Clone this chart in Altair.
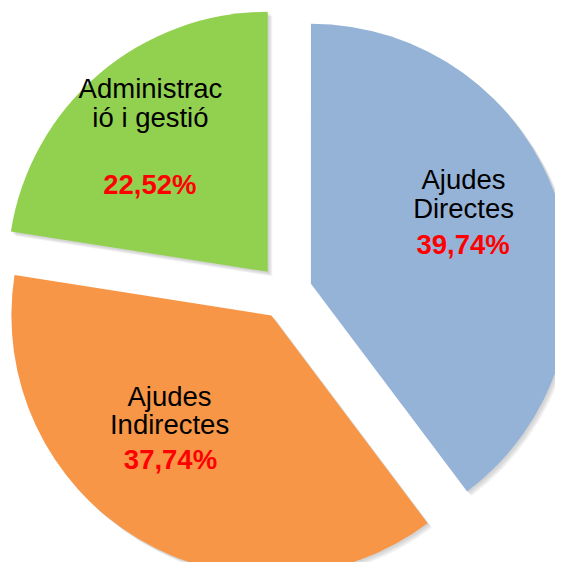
import math
from itertools import accumulate

import altair as alt
import pandas as pd

# ---- data ----
categories = ["Ajudes Directes", "Ajudes Indirectes", "Administració i gestió"]
values = [39.74, 37.74, 22.52]
name_labels = ["Ajudes\nDirectes", "Ajudes\nIndirectes", "Administrac\nió i gestió"]
pct_labels = ["39,74%", "37,74%", "22,52%"]

# ---- style / layout ----
colors = ["#95B3D7", "#F79646", "#92D050"]
W, H = 547, 554          # whole chart (page is 563x570 with an 8px margin)
CX, CY = 277.3, 284.3    # pie centre inside the chart
R = 260                  # pie radius (px)
EXPLODE = 27             # slice explosion (px)
SHADOW_STEPS = [1.5, 2.5, 3.5, 4.5]   # soft drop-shadow offsets (px)
# label anchors, polar around each exploded slice centre: (% of circle, px)
name_theta = [16.17, 63.47, 90.53]
name_radius = [179.6, 136.0, 209.3]
pct_theta = [21.94, 59.25, 84.28]
pct_radius = [155.0, 183.8, 141.2]

total = sum(values)
ends = list(accumulate(values))
starts = [0.0] + ends[:-1]
mids = [(s + e) / 2 / total * 2 * math.pi for s, e in zip(starts, ends)]

df = pd.DataFrame({
    "category": categories,
    "value": values,
    "start": starts,
    "end": ends,
    "ox": [EXPLODE * math.sin(m) for m in mids],
    "oy": [-EXPLODE * math.cos(m) for m in mids],
    "name": name_labels,
    "pct": pct_labels,
    "nt": name_theta,
    "nr": name_radius,
    "pt": pct_theta,
    "pr": pct_radius,
})

theta_scale = alt.Scale(domain=[0, total], range=[0, 2 * math.pi])
x_enc = alt.X("ox:Q", scale=alt.Scale(domain=[-R, R], range=[CX - R, CX + R]), axis=None)
y_enc = alt.Y("oy:Q", scale=alt.Scale(domain=[-R, R], range=[CY - R, CY + R]), axis=None)

shadows = [
    alt.Chart().mark_arc(radius=R, color="#7f7f7f", opacity=0.09, xOffset=s, yOffset=s).encode(
        x=x_enc,
        y=y_enc,
        theta=alt.Theta("start:Q", stack=None, scale=theta_scale),
        theta2="end:Q",
    )
    for s in SHADOW_STEPS
]

arcs = alt.Chart().mark_arc(radius=R).encode(
    x=x_enc,
    y=y_enc,
    theta=alt.Theta("start:Q", stack=None, scale=theta_scale),
    theta2="end:Q",
    color=alt.Color("category:N", scale=alt.Scale(domain=categories, range=colors), legend=None),
)

names = alt.Chart().mark_text(
    font="Liberation Sans", fontSize=27.5, color="#000000", align="center",
    baseline="alphabetic", lineBreak="\n", lineHeight=28.5,
).encode(
    x=x_enc,
    y=y_enc,
    theta=alt.Theta("nt:Q", stack=None, scale=theta_scale),
    radius=alt.Radius("nr:Q", scale=None),
    text="name:N",
)

pcts = alt.Chart().mark_text(
    font="Liberation Sans", fontSize=27.5, fontWeight="bold", color="#FF0000",
    align="center", baseline="alphabetic",
).encode(
    x=x_enc,
    y=y_enc,
    theta=alt.Theta("pt:Q", stack=None, scale=theta_scale),
    radius=alt.Radius("pr:Q", scale=None),
    text="pct:N",
)

chart = alt.layer(*shadows, arcs, names, pcts, data=df).properties(
    width=W, height=H, padding=0,
    autosize=alt.AutoSizeParams(type="none"),
).configure_view(stroke=None)

chart.save("out.html", embed_options={"renderer": "svg", "actions": False})
